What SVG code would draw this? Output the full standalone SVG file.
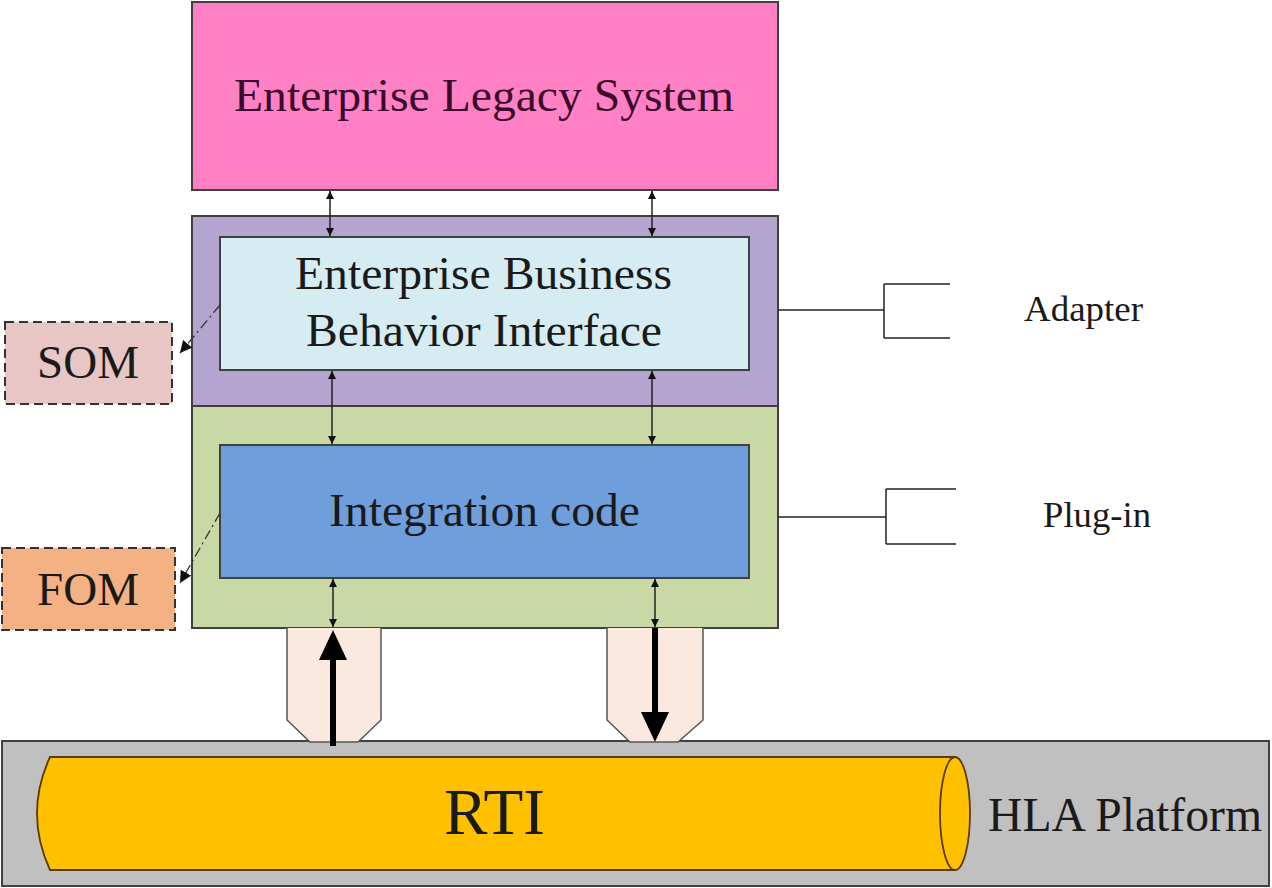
<svg xmlns="http://www.w3.org/2000/svg" width="1272" height="888" viewBox="0 0 1272 888">
<defs>
<style>
.t{font-family:"Liberation Serif","Times New Roman",serif;fill:#1a1a1a}
.box{stroke:#404040;stroke-width:2}
.thin{stroke:#222;stroke-width:1.5;fill:none}
.dd{stroke:#333;stroke-width:1.3;fill:none;stroke-dasharray:10 4 2 4}
</style>
<marker id="ah" viewBox="0 0 10 10" refX="10" refY="5" markerWidth="8" markerHeight="8" orient="auto-start-reverse" markerUnits="userSpaceOnUse">
<path d="M0,0 L10,5 L0,10 Z" fill="#111"/>
</marker>
<marker id="ahs" viewBox="0 0 10 10" refX="10" refY="5" markerWidth="12" markerHeight="12" orient="auto" markerUnits="userSpaceOnUse">
<path d="M0,0 L10,5 L0,10 Z" fill="#111"/>
</marker>
</defs>
<rect width="1272" height="888" fill="#fff"/>

<g id="hla">
<rect x="2" y="741" width="1267" height="145" fill="#c0c0c0" class="box"/>
<text class="t" x="988" y="831" font-size="48" textLength="274" lengthAdjust="spacingAndGlyphs">HLA Platform</text>
</g>
<g id="rti">
<path d="M50 757 L955 757 A15 56.5 0 0 1 955 870 L50 870 Q24 813.5 50 757 Z" fill="#ffc000" stroke="#5a3a00" stroke-width="1.8"/>
<path d="M955 870 A15 56.5 0 0 1 955 757" fill="none" stroke="#5a3a00" stroke-width="1.8"/>
<text class="t" x="444" y="834" font-size="66" textLength="101" lengthAdjust="spacingAndGlyphs">RTI</text>
</g>

<g id="legacy">
<rect x="192" y="2" width="586" height="188" fill="#ff80c4" class="box"/>
<text class="t" x="234" y="111" font-size="47" textLength="500" lengthAdjust="spacingAndGlyphs" style="fill:#3a0a2a">Enterprise Legacy System</text>
</g>

<g id="adapter">
<rect x="192" y="216" width="586" height="190" fill="#b3a5cf" class="box"/>
</g>
<g id="ebbi">
<rect x="220" y="237" width="529" height="133" fill="#d5ecf3" class="box"/>
<text class="t" x="295" y="289" font-size="47" textLength="377" lengthAdjust="spacingAndGlyphs">Enterprise Business</text>
<text class="t" x="306" y="346" font-size="47" textLength="356" lengthAdjust="spacingAndGlyphs">Behavior Interface</text>
</g>

<g id="plugin">
<rect x="192" y="406" width="586" height="222" fill="#c9d9a6" class="box"/>
</g>
<g id="integration">
<rect x="220" y="445" width="529" height="133" fill="#6f9edc" class="box"/>
<text class="t" x="329" y="526" font-size="47" textLength="311" lengthAdjust="spacingAndGlyphs">Integration code</text>
</g>

<g id="peg-left">
<path d="M287 628 L287 720 L310 742 L358 742 L381 720 L381 628" fill="#fbe8de" stroke="#555" stroke-width="1.5"/>
</g>
<g id="peg-right">
<path d="M607 628 L607 720 L630 742 L678 742 L703 720 L703 628" fill="#fbe8de" stroke="#555" stroke-width="1.5"/>
</g>

<g id="som">
<rect x="5" y="322" width="167" height="82" fill="#e8c6c6" stroke="#333" stroke-width="2" stroke-dasharray="9 5"/>
<text class="t" x="37" y="378" font-size="47" textLength="102" lengthAdjust="spacingAndGlyphs">SOM</text>
</g>
<g id="fom">
<rect x="2" y="548" width="173" height="82" fill="#f4b183" stroke="#333" stroke-width="2" stroke-dasharray="9 5"/>
<text class="t" x="37" y="605" font-size="47" textLength="102" lengthAdjust="spacingAndGlyphs">FOM</text>
</g>

<g id="labels">
<text class="t" x="1024" y="321" font-size="36" textLength="119" lengthAdjust="spacingAndGlyphs">Adapter</text>
<text class="t" x="1043" y="527" font-size="36" textLength="108" lengthAdjust="spacingAndGlyphs">Plug-in</text>
</g>

<g id="connectors">
<line class="thin" x1="330" y1="191" x2="330" y2="236" marker-start="url(#ah)" marker-end="url(#ah)"/>
<line class="thin" x1="652" y1="191" x2="652" y2="236" marker-start="url(#ah)" marker-end="url(#ah)"/>
<line class="thin" x1="332" y1="371" x2="332" y2="444" marker-start="url(#ah)" marker-end="url(#ah)"/>
<line class="thin" x1="652" y1="371" x2="652" y2="444" marker-start="url(#ah)" marker-end="url(#ah)"/>
<line class="thin" x1="333" y1="579" x2="333" y2="627" marker-start="url(#ah)" marker-end="url(#ah)"/>
<line class="thin" x1="655" y1="579" x2="655" y2="627" marker-start="url(#ah)" marker-end="url(#ah)"/>
<line x1="333" y1="746" x2="333" y2="660" stroke="#000" stroke-width="6"/>
<path d="M333 630 L319 660 L347 660 Z" fill="#000"/>
<line x1="655" y1="628" x2="655" y2="712" stroke="#000" stroke-width="6"/>
<path d="M655 742 L641 712 L669 712 Z" fill="#000"/>
<line class="dd" x1="220" y1="305" x2="180" y2="353" marker-end="url(#ahs)"/>
<line class="dd" x1="220" y1="513" x2="180" y2="583" marker-end="url(#ahs)"/>
<path class="thin" d="M778 310 L884 310 M884 284 L884 338 M884 284 L950 284 M884 338 L950 338"/>
<path class="thin" d="M778 517 L886 517 M886 489 L886 544 M886 489 L956 489 M886 544 L956 544"/>
</g>
</svg>
